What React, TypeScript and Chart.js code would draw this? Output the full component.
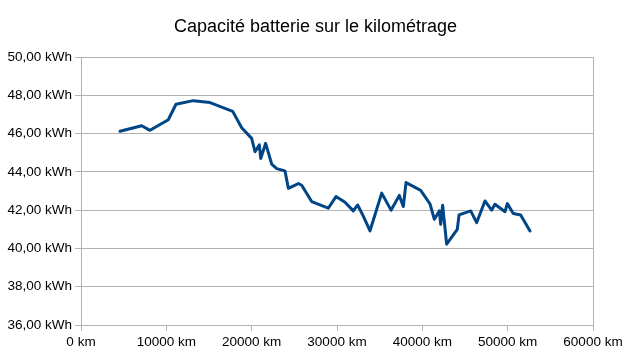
import React, { useEffect, useRef } from "react";
import { Chart, registerables } from "chart.js";

Chart.register(...registerables);

const TITLE = "Capacité batterie sur le kilométrage";

const kilometres: number[] = [
  4570, 7110, 8090, 10230, 11130, 13160, 15120, 17780, 18830, 20000,
  20390, 20900, 21060, 21640, 22350, 22930, 23900, 24300, 25470, 25860,
  27030, 28980, 29880, 30940, 31910, 32420, 33080, 33870, 35240, 36330,
  37300, 37770, 38090, 39810, 40900, 41410, 41990, 42150, 42380, 42850,
  44100, 44300, 45670, 46370, 47340, 48120, 48510, 49690, 49960, 50660,
  51520, 52620,
];

const capacityKWh: number[] = [
  46.12, 46.41, 46.17, 46.72, 47.53, 47.72, 47.62, 47.16, 46.30, 45.75,
  45.05, 45.41, 44.70, 45.49, 44.40, 44.17, 44.05, 43.14, 43.39, 43.30,
  42.45, 42.10, 42.71, 42.41, 41.96, 42.27, 41.69, 40.92, 42.89, 42.00,
  42.77, 42.19, 43.44, 43.03, 42.32, 41.52, 41.96, 41.26, 42.26, 40.22,
  41.00, 41.75, 41.96, 41.35, 42.48, 42.00, 42.31, 41.92, 42.34, 41.82,
  41.75, 40.91,
];

const xMin = 0;
const xMax = 60000;
const xStep = 10000;
const yMin = 36;
const yMax = 50;
const yStep = 2;

const GRID = "#b3b3b3";
const LINE = "#004586";
const FONT = "'Liberation Sans', Arial, sans-serif";

export default function App() {
  const ref = useRef<HTMLCanvasElement | null>(null);

  useEffect(() => {
    if (!ref.current) return;
    const data = kilometres.map((k, i) => ({ x: k, y: capacityKWh[i] }));
    const chart = new Chart(ref.current, {
      type: "line",
      data: {
        datasets: [
          {
            data,
            yAxisID: "y",
            borderColor: LINE,
            backgroundColor: LINE,
            borderWidth: 3,
            pointRadius: 0,
            tension: 0,
            borderJoinStyle: "round",
            borderCapStyle: "round",
          },
        ],
      },
      options: {
        responsive: false,
        animation: false,
        layout: { padding: 0 },
        plugins: {
          legend: { display: false },
          tooltip: { enabled: false },
          title: {
            display: true,
            text: TITLE,
            color: "#000",
            font: { family: FONT, size: 18, weight: "normal" },
            padding: { top: 16, bottom: 19.4 },
          },
        },
        scales: {
          x: {
            type: "linear",
            min: xMin,
            max: xMax,
            grid: {
              drawOnChartArea: false,
              drawTicks: true,
              tickLength: 6,
              color: GRID,
            },
            border: { display: true, color: GRID },
            ticks: {
              stepSize: xStep,
              color: "#000",
              padding: 3,
              maxRotation: 0,
              font: { family: FONT, size: 13.5 },
              callback: (v: any) => `${v} km`,
            },
            afterFit: (s: any) => {
              s.height = 39;
            },
          },
          y: {
            type: "linear",
            position: "left",
            min: yMin,
            max: yMax,
            grid: { color: GRID, tickLength: 6 },
            border: { display: true, color: GRID },
            ticks: {
              stepSize: yStep,
              color: "#000",
              padding: 3,
              font: { family: FONT, size: 13.5 },
              callback: (v: any) => `${Number(v).toFixed(2).replace(".", ",")} kWh`,
            },
            afterFit: (s: any) => {
              s.width = 81;
            },
          },
          yRight: {
            type: "linear",
            position: "right",
            min: yMin,
            max: yMax,
            grid: { drawOnChartArea: false, drawTicks: false },
            border: { display: true, color: GRID },
            ticks: { display: false },
            afterFit: (s: any) => {
              s.width = 38;
            },
          },
        },
      },
    });
    return () => chart.destroy();
  }, []);

  return (
    <div style={{ position: "fixed", left: 0, top: 0, width: 631, height: 364, background: "#fff" }}>
      <canvas ref={ref} width={631} height={364} style={{ width: 631, height: 364, display: "block" }} />
    </div>
  );
}
